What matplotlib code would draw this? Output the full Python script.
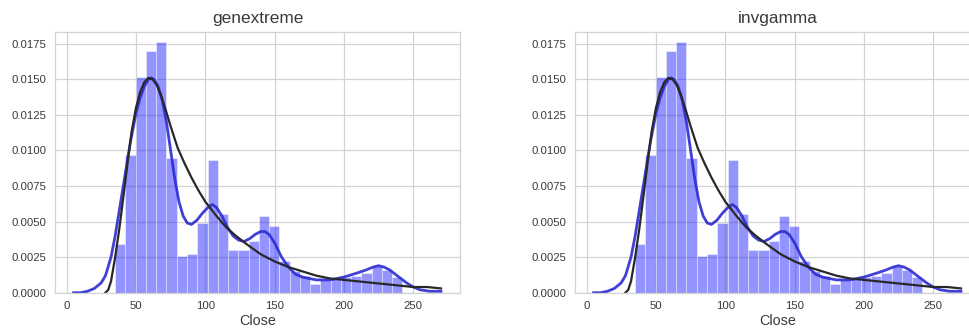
import numpy as np
import matplotlib
matplotlib.use("Agg")
import matplotlib.pyplot as plt
from matplotlib.ticker import FormatStrFormatter, MultipleLocator

# Histogram of closing prices (density per bin)
bin_lo = 35.0
bin_hi = 242.2
hist_density = [
    0.0034, 0.0097, 0.0152, 0.0170, 0.0176, 0.0095, 0.0026, 0.0027,
    0.0049, 0.0093, 0.0055, 0.0030, 0.0030, 0.0036, 0.0054, 0.0047,
    0.0022, 0.0015, 0.0012, 0.0006, 0.0009, 0.0010, 0.0011, 0.0012,
    0.0014, 0.0019, 0.0016, 0.0011,
]

# Kernel density estimate of Close
kde_x = [5, 10, 15, 20, 25, 28, 32, 35, 38, 42, 46, 50, 53, 56, 59, 61, 63,
         66, 69, 72, 75, 78, 81, 84, 87, 90, 94, 98, 102, 105, 108, 112, 116,
         120, 124, 128, 132, 136, 140, 143, 146, 150, 155, 160, 165, 170, 175,
         180, 190, 200, 210, 216, 221, 225, 229, 233, 237, 241, 245, 250, 255,
         262, 270]
kde_y = [0.0000, 0.0000, 0.0001, 0.0003, 0.0007, 0.0012, 0.0025, 0.0040,
         0.0058, 0.0082, 0.0106, 0.0126, 0.0137, 0.0145, 0.0150, 0.0151,
         0.0150, 0.0145, 0.0135, 0.0120, 0.0100, 0.0080, 0.0064, 0.0054,
         0.0049, 0.0048, 0.0051, 0.0056, 0.0060, 0.0062, 0.0060, 0.0054,
         0.0046, 0.0040, 0.0037, 0.0036, 0.0038, 0.0041, 0.0043, 0.0043,
         0.0041, 0.0035, 0.0025, 0.0018, 0.0013, 0.0011, 0.0010, 0.0009,
         0.0009, 0.0011, 0.0014, 0.0016, 0.0018, 0.0019, 0.0018, 0.0016,
         0.0013, 0.0010, 0.0007, 0.0004, 0.0002, 0.0001, 0.0001]

# Fitted distribution densities
fit_x = [28, 30, 32, 35, 38, 41, 44, 47, 50, 53, 56, 59, 62, 65, 68, 71, 75,
         80, 85, 90, 95, 100, 108, 115, 122, 130, 140, 150, 160, 170, 180,
         190, 200, 210, 220, 230, 240, 250, 260, 270]
fit_y = [0.0000, 0.0002, 0.0008, 0.0025, 0.0045, 0.0068, 0.0092, 0.0114,
         0.0130, 0.0141, 0.0148, 0.0151, 0.0150, 0.0146, 0.0139, 0.0130,
         0.0117, 0.0102, 0.0091, 0.0081, 0.0072, 0.0064, 0.0054, 0.0046,
         0.0040, 0.0034, 0.0027, 0.0022, 0.0018, 0.0015, 0.0012, 0.0010,
         0.0009, 0.0008, 0.0007, 0.0006, 0.0005, 0.0004, 0.0004, 0.0003]

titles = ["genextreme", "invgamma"]
x_label = "Close"

plt.rcParams["font.family"] = ["Liberation Sans", "DejaVu Sans"]

fig = plt.figure(figsize=(9.70, 3.29), dpi=100)
positions = [[55 / 970, 36.3 / 329, 405 / 970, 261 / 329],
             [575 / 970, 36.3 / 329, 405 / 970, 261 / 329]]

edges = np.linspace(bin_lo, bin_hi, len(hist_density) + 1)
text_col = "#3a3a3a"
grid_col = "#d4d4d4"

for pos, title in zip(positions, titles):
    ax = fig.add_axes(pos)
    ax.set_facecolor("white")
    ax.set_axisbelow(True)
    ax.grid(True, color=grid_col, linewidth=0.9)
    for s in ax.spines.values():
        s.set_color(grid_col)
        s.set_linewidth(0.9)

    ax.bar(edges[:-1], hist_density, width=np.diff(edges), align="edge",
           color=(0.0, 0.0, 1.0, 0.42), edgecolor=(1, 1, 1, 0.6),
           linewidth=0.5)
    ax.plot(kde_x, kde_y, color="#2b2bd0", linewidth=2.0, alpha=0.9)
    ax.plot(fit_x, fit_y, color="#282828", linewidth=1.6)

    ax.set_xlim(-8.4, 283.7)
    ax.set_ylim(0, 0.01835)
    ax.xaxis.set_major_locator(MultipleLocator(50))
    ax.yaxis.set_major_locator(MultipleLocator(0.0025))
    ax.yaxis.set_major_formatter(FormatStrFormatter("%.4f"))
    ax.tick_params(length=0, labelsize=8.2, colors=text_col, pad=6)
    ax.set_xlabel(x_label, fontsize=10.4, color=text_col, labelpad=2)
    ax.set_title(title, fontsize=12.4, color=text_col, pad=6)

fig.savefig("out.png", dpi=100, facecolor="white")
